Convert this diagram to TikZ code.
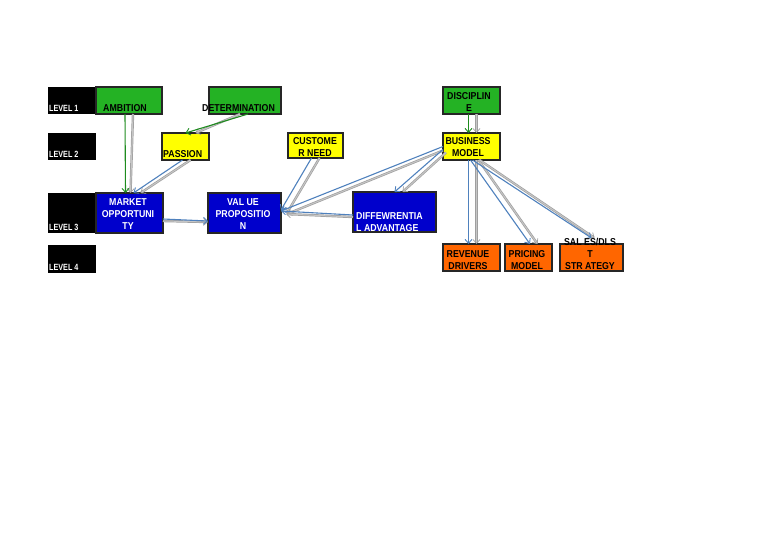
\documentclass[tikz,border=0pt]{standalone}
\usepackage{fontspec}
\setmainfont{Liberation Sans}
\newfontfamily\condfont{Liberation Sans}[FakeStretch=0.88]
\usetikzlibrary{arrows.meta}
\definecolor{boxgreen}{RGB}{36,178,36}
\definecolor{boxyellow}{RGB}{255,255,0}
\definecolor{boxblue}{RGB}{0,0,204}
\definecolor{boxorange}{RGB}{255,102,0}
\definecolor{linkblue}{RGB}{79,129,189}
\definecolor{linkgreen}{RGB}{30,140,30}
\begin{document}
\begin{tikzpicture}[x=1pt,y=-1pt,
  box/.style={draw=black!85, line width=1.2pt, inner sep=0pt, outer sep=0pt},
  lvl/.style={fill=black, inner sep=0pt, outer sep=0pt},
  txt/.style={inner sep=0pt, font=\condfont\bfseries\fontsize{10}{12}\selectfont, align=center},
  lvtxt/.style={inner sep=0pt, text=white, font=\bfseries\fontsize{9}{12}\selectfont, anchor=base west},
  tip/.style={-{Straight Barb[length=4pt,width=7pt,line width=0.9pt]}},
  blink/.style={draw=linkblue, line width=1.1pt, tip},
  glink/.style={draw=linkgreen, line width=1.1pt, tip},
  shad/.style={draw=gray!75, double=gray!45, line width=0.7pt, double distance=1pt,
               -{Straight Barb[length=4pt,width=7pt,line width=0.7pt]}}
]
\useasboundingbox (0,0) rectangle (768,543);

% level boxes
\node[lvl, minimum width=48pt, minimum height=27pt] (lv1) at (72,100.5) {};
\node[lvl, minimum width=48pt, minimum height=27pt] (lv2) at (72,146.5) {};
\node[lvl, minimum width=48pt, minimum height=40pt] (lv3) at (72,213) {};
\node[lvl, minimum width=48pt, minimum height=28pt] (lv4) at (72,259) {};
\node[lvtxt] (lt1) at (49,111) {\scalebox{0.8}[1]{LEVEL 1}};
\node[lvtxt] (lt2) at (49,157) {\scalebox{0.8}[1]{LEVEL 2}};
\node[lvtxt] (lt3) at (49,230) {\scalebox{0.8}[1]{LEVEL 3}};
\node[lvtxt] (lt4) at (49,270) {\scalebox{0.8}[1]{LEVEL 4}};

% boxes
\node[box, fill=boxgreen, minimum width=66pt, minimum height=27pt] (amb) at (129,100.5) {};
\node[box, fill=boxgreen, minimum width=72pt, minimum height=27pt] (det) at (245,100.5) {};
\node[box, fill=boxyellow, minimum width=47pt, minimum height=27pt] (pas) at (185.5,146.5) {};
\node[box, fill=boxyellow, minimum width=55pt, minimum height=25pt] (cus) at (315.5,145.5) {};
\node[box, fill=boxblue, minimum width=67pt, minimum height=40pt] (mkt) at (129.5,213) {};
\node[box, fill=boxblue, minimum width=73pt, minimum height=40pt] (val) at (244.5,213) {};
\node[box, fill=boxblue, minimum width=83pt, minimum height=40pt] (dif) at (394.5,212) {};
\node[box, fill=boxgreen, minimum width=57pt, minimum height=27pt] (dis) at (471.5,100.5) {};
\node[box, fill=boxyellow, minimum width=57pt, minimum height=27pt] (bus) at (471.5,146.5) {};
\node[box, fill=boxorange, minimum width=57pt, minimum height=27pt] (rev) at (471.5,257.5) {};
\node[box, fill=boxorange, minimum width=47pt, minimum height=27pt] (pri) at (528.5,257.5) {};
\node[box, fill=boxorange, minimum width=63pt, minimum height=27pt] (sal) at (591.5,257.5) {};

% connectors (shadow first, then line)
\draw[shad] ([xshift=4pt]amb.south) -- ([xshift=1pt]mkt.north);
\draw[glink] ([xshift=-4pt]amb.south) -- ([xshift=-4pt]mkt.north);

\draw[shad] ([xshift=-5pt]det.south) -- ([xshift=10pt]pas.north);
\draw[glink] ([xshift=3pt]det.south) -- (pas.north);

\draw[shad] ([xshift=5pt]pas.south) -- ([xshift=11pt]mkt.north);
\draw[blink] ([xshift=-3pt]pas.south) -- ([xshift=4pt]mkt.north);

\draw[shad] ([yshift=-8pt]mkt.east) -- ([yshift=-9pt]val.west);
\draw[blink] ([yshift=-6pt]mkt.east) -- ([yshift=-8pt]val.west);

\draw[shad] ([xshift=4pt]cus.south) -- ([xshift=6pt]val.east);
\draw[blink] ([xshift=-4pt]cus.south) -- ([yshift=3pt]val.east);

\draw[shad] ([yshift=-4pt]bus.west) -- ([xshift=6pt,yshift=-1pt]val.east);
\draw[blink] (bus.west) -- ([yshift=2pt]val.east);

\draw[shad] ([yshift=-5pt]dif.west) -- ([xshift=5pt,yshift=-1pt]val.east);
\draw[blink] ([yshift=-3pt]dif.west) -- ([yshift=2pt]val.east);

\draw[shad] ([xshift=3pt,yshift=-6pt]bus.west) -- ([xshift=8pt]dif.north);
\draw[blink] ([yshift=-3pt]bus.west) -- (dif.north);

\draw[shad] ([xshift=5pt]dis.south) -- ([xshift=5pt]bus.north);
\draw[glink] ([xshift=-3pt]dis.south) -- ([xshift=-3pt]bus.north);

\draw[shad] ([xshift=5pt]bus.south) -- ([xshift=5pt]rev.north);
\draw[blink] ([xshift=-3pt]bus.south) -- ([xshift=-3pt]rev.north);

\draw[shad] ([xshift=7pt]bus.south) -- ([xshift=9pt]pri.north);
\draw[blink] ([xshift=-1pt]bus.south) -- ([xshift=1.5pt]pri.north);

\draw[shad] ([xshift=8pt]bus.south) -- ([xshift=3pt,yshift=6pt]sal.north);
\draw[blink] ([xshift=1pt]bus.south) -- ([yshift=6pt]sal.north);

% texts
\node[txt, anchor=base] (tamb) at (125,111) {AMBITION};
\node[txt, anchor=base west] (tdet) at (202,111) {DETERMINATION};
\node[txt, anchor=base west] (tpas) at (163,157) {PASSION};
\node[txt, anchor=north] (tcus) at (315,137) {CUSTOME\\R NEED};
\node[txt, anchor=north, text=white] (tmkt) at (128,198.5) {MARKET\\OPPORTUNI\\TY};
\node[txt, anchor=north, text=white] (tval) at (243,198.5) {VAL UE\\PROPOSITIO\\N};
\node[txt, anchor=north west, align=left, text=white] (tdif) at (356,212) {DIFFEWRENTIA\\L ADVANTAGE};
\node[txt, anchor=north, font=\condfont\bfseries\fontsize{10}{12.5}\selectfont] (tdis) at (469,92) {DISCIPLIN\\E};
\node[txt, anchor=north] (tbus) at (468,137) {BUSINESS\\MODEL};
\node[txt, anchor=north] (trev) at (468,250) {REVENUE\\DRIVERS};
\node[txt, anchor=north] (tpri) at (527,250) {PRICING\\MODEL};
\node[txt, anchor=north] (tsal) at (590,238) {SAL ES/DLS\\T\\STR ATEGY};
\end{tikzpicture}
\end{document}
